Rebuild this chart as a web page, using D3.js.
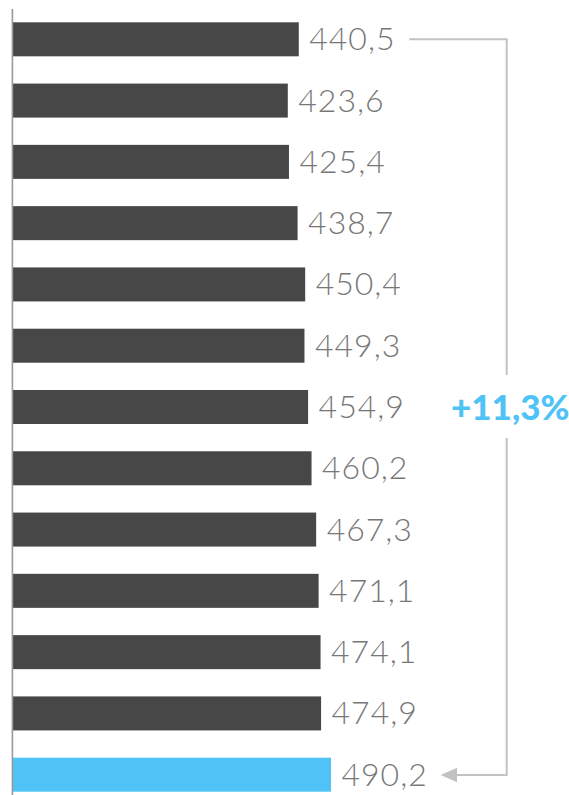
<!DOCTYPE html>
<html>
<head>
<meta charset="utf-8">
<script src="https://cdn.jsdelivr.net/npm/d3@7"></script>
<style>
  html, body { margin: 0; padding: 0; background: #fff; }
  svg { display: block; }
</style>
</head>
<body>
<svg id="chart" width="569" height="795"></svg>
<script>
// Yearly values, top to bottom; the last row is highlighted
const categories = ["1", "2", "3", "4", "5", "6", "7", "8", "9", "10", "11", "12", "13"];
const values = [440.5, 423.6, 425.4, 438.7, 450.4, 449.3, 454.9, 460.2, 467.3, 471.1, 474.1, 474.9, 490.2];
const changeLabel = "+11,3%";

const fmt = v => d3.format(".1f")(v).replace(".", ",");

const svg = d3.select("#chart");
const W = 569, H = 795;

const x = d3.scaleLinear().domain([0, d3.max(values)]).range([13, 331]);
const y = d3.scaleBand().domain(categories).range([22.3, 791.7]).paddingInner(0.445).paddingOuter(0);

const data = categories.map((c, i) => ({ c, v: values[i], last: i === categories.length - 1 }));

// bars
svg.append("g").selectAll("rect").data(data).join("rect")
  .attr("x", x(0))
  .attr("y", d => y(d.c))
  .attr("width", d => x(d.v) - x(0))
  .attr("height", y.bandwidth())
  .attr("fill", d => d.last ? "#4FC3F5" : "#474747");

// baseline axis
svg.append("line")
  .attr("x1", 12.4).attr("x2", 12.4)
  .attr("y1", 9).attr("y2", H)
  .attr("stroke", "#999").attr("stroke-width", 1.6);

// value labels
svg.append("g").selectAll("text").data(data).join("text")
  .attr("x", d => x(d.v) + 10.5)
  .attr("y", d => y(d.c) + y.bandwidth() / 2 + 11)
  .attr("font-family", "Lato, sans-serif")
  .attr("font-weight", 300)
  .attr("font-size", 32)
  .attr("letter-spacing", 1)
  .attr("fill", "#777")
  .text(d => fmt(d.v));

// bracket from first to last value
const first = data[0], last = data[data.length - 1];
const yTop = y(first.c) + y.bandwidth() / 2;
const yBot = y(last.c) + y.bandwidth() / 2 + 0.3;
const bx = 506.7;
const gapTop = 375, gapBot = 438;
const g = svg.append("g").attr("stroke", "#c2c2c2").attr("stroke-width", 2).attr("fill", "none");
g.append("path").attr("d", `M409.3,${yTop}H${bx}V${gapTop}`);
g.append("path").attr("d", `M${bx},${gapBot}V${yBot}H455`);
svg.append("path")
  .attr("d", `M440.7,${yBot}L457,${yBot - 7.3}L457,${yBot + 7.3}Z`)
  .attr("fill", "#c2c2c2");

svg.append("text")
  .attr("x", 451)
  .attr("y", 420)
  .attr("font-family", "Lato, sans-serif")
  .attr("font-weight", 900)
  .attr("font-size", 35)
  .attr("fill", "#4FC3F5")
  .text(changeLabel);
</script>
</body>
</html>
